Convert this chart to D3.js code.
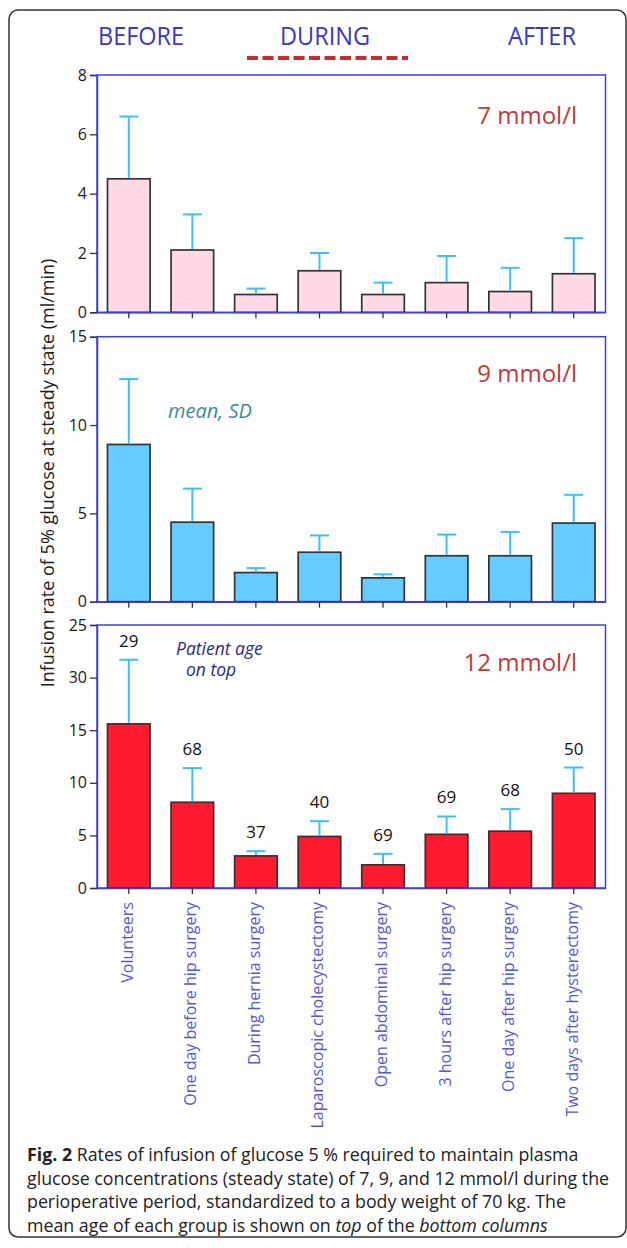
<!DOCTYPE html>
<html>
<head>
<meta charset="utf-8">
<script src="https://cdn.jsdelivr.net/npm/d3@7"></script>
<style>
  body { margin: 0; background: #fff; }
  svg { display: block; font-family: "Open Sans", "Noto Sans", sans-serif; }
</style>
</head>
<body>
<div id="chart"></div>
<script>
// groups along the x axis
let categories = ["Volunteers", "One day before hip surgery", "During hernia surgery",
  "Laparoscopic cholecystectomy", "Open abdominal surgery", "3 hours after hip surgery",
  "One day after hip surgery", "Two days after hysterectomy"];

// infusion rate (ml/min), mean and SD, per plasma glucose target
let mean7  = [4.5, 2.1, 0.6, 1.4, 0.6, 1.0, 0.7, 1.3];
let sd7    = [2.1, 1.2, 0.2, 0.6, 0.4, 0.9, 0.8, 1.2];
let mean9  = [8.9, 4.5, 1.65, 2.8, 1.35, 2.6, 2.6, 4.45];
let sd9    = [3.7, 1.9, 0.25, 0.95, 0.2, 1.2, 1.35, 1.6];
let mean12 = [15.6, 8.15, 3.05, 4.9, 2.2, 5.1, 5.4, 9.0];
let sd12   = [6.1, 3.25, 0.45, 1.45, 1.05, 1.7, 2.1, 2.45];

// mean patient age for each group
let ages = [29, 68, 37, 40, 69, 69, 68, 50];

// y ticks (the bottom panel's "30" is printed that way in the figure)
let ticks7 = [0, 2, 4, 6, 8];
let ticks9 = [0, 5, 10, 15];
let ticks12 = [0, 5, 10, 15, 20, 25];
let tickLabels12 = ["0", "5", "10", "15", "30", "25"];

let periods = ["BEFORE", "DURING", "AFTER"];
let captionLines = [
  [["Fig. 2", "bold"], [" Rates of infusion of glucose 5 % required to maintain plasma", ""]],
  [["glucose concentrations (steady state) of 7, 9, and 12 mmol/l during the", ""]],
  [["perioperative period, standardized to a body weight of 70 kg. The", ""]],
  [["mean age of each group is shown on ", ""], ["top", "italic"], [" of the ", ""], ["bottom columns", "italic"]]
];

let W = 627, H = 1248;
let left = 97, right = 605.5;
let svg = d3.select("#chart").append("svg").attr("width", W).attr("height", H);

// outer rounded frame
svg.append("rect").attr("x", 9).attr("y", 10).attr("width", 617).attr("height", 1227)
  .attr("rx", 9).attr("fill", "none").attr("stroke", "#333").attr("stroke-width", 1.5);

// period headings
let headX = [141, 325, 542], headW = [86, 90, 68];
svg.selectAll("text.head").data(periods).join("text")
  .attr("class", "head")
  .attr("x", (d, i) => headX[i]).attr("y", 45)
  .attr("text-anchor", "middle")
  .attr("font-size", 25)
  .attr("textLength", (d, i) => headW[i]).attr("lengthAdjust", "spacingAndGlyphs")
  .attr("fill", "#3a36c8")
  .text(d => d);
svg.append("line").attr("x1", 247).attr("x2", 408).attr("y1", 58).attr("y2", 58)
  .attr("stroke", "#cc2b2b").attr("stroke-width", 4).attr("stroke-dasharray", "11,4.5");

let x = d3.scaleBand().domain(categories).range([left, right]).paddingInner(0.33).paddingOuter(0.165);

let panels = [
  {top: 75, bottom: 312.3, max: 8, ticks: ticks7, labels: ticks7.map(String), mean: mean7, sd: sd7,
   fill: "#ffd9e6", conc: "7 mmol/l", concY: 124},
  {top: 336.7, bottom: 601.7, max: 15, ticks: ticks9, labels: ticks9.map(String), mean: mean9, sd: sd9,
   fill: "#66ccff", conc: "9 mmol/l", concY: 382},
  {top: 625, bottom: 888, max: 25, ticks: ticks12, labels: tickLabels12, mean: mean12, sd: sd12,
   fill: "#ff1a30", conc: "12 mmol/l", concY: 671}
];

panels.forEach(function(p, pi) {
  let y = d3.scaleLinear().domain([0, p.max]).range([p.bottom, p.top]);
  let g = svg.append("g");

  // plot frame
  g.append("rect").attr("x", left).attr("y", p.top)
    .attr("width", right - left).attr("height", p.bottom - p.top)
    .attr("fill", "none").attr("stroke", "#3c3cf0").attr("stroke-width", 1.5);

  // bars
  g.selectAll("rect.bar").data(categories).join("rect")
    .attr("class", "bar")
    .attr("x", d => x(d)).attr("width", x.bandwidth())
    .attr("y", (d, i) => y(p.mean[i]))
    .attr("height", (d, i) => y(0) - y(p.mean[i]))
    .attr("fill", p.fill).attr("stroke", "#333").attr("stroke-width", 1.7);

  // SD whiskers (upper only)
  let cx = d => x(d) + x.bandwidth() / 2;
  g.selectAll("line.err").data(categories).join("line")
    .attr("class", "err")
    .attr("x1", cx).attr("x2", cx)
    .attr("y1", (d, i) => y(p.mean[i]) - 1).attr("y2", (d, i) => y(p.mean[i] + p.sd[i]))
    .attr("stroke", "#3cc0f0").attr("stroke-width", 2);
  g.selectAll("line.cap").data(categories).join("line")
    .attr("class", "cap")
    .attr("x1", d => cx(d) - 9.5).attr("x2", d => cx(d) + 9.5)
    .attr("y1", (d, i) => y(p.mean[i] + p.sd[i])).attr("y2", (d, i) => y(p.mean[i] + p.sd[i]))
    .attr("stroke", "#3cc0f0").attr("stroke-width", 2);

  // left axis
  let yAxis = g.append("g").attr("transform", "translate(" + left + ",0)")
    .call(d3.axisLeft(y).tickValues(p.ticks).tickSize(7).tickPadding(3)
      .tickFormat((d, i) => p.labels[i]));
  yAxis.select(".domain").attr("stroke", "#3c3cf0").attr("stroke-width", 1.5);
  yAxis.selectAll(".tick line").attr("stroke", "#333").attr("stroke-width", 1.3);
  yAxis.selectAll(".tick text").attr("font-size", 16).attr("fill", "#1a1a1a")
    .attr("font-family", "'Open Sans', sans-serif");

  // bottom ticks
  let xAxis = g.append("g").attr("transform", "translate(0," + p.bottom + ")")
    .call(d3.axisBottom(x).tickSize(6).tickSizeOuter(0));
  xAxis.select(".domain").attr("stroke", "#3c3cf0").attr("stroke-width", 1.5);
  xAxis.selectAll(".tick line").attr("stroke", "#333").attr("stroke-width", 1.3);
  if (pi < 2) {
    xAxis.selectAll(".tick text").remove();
  } else {
    xAxis.selectAll(".tick text")
      .attr("transform", "translate(4,0) rotate(-90)")
      .attr("x", 0).attr("y", 0).attr("dy", null)
      .attr("dx", -14)
      .attr("text-anchor", "end")
      .attr("font-size", 16).attr("fill", "#5656d8")
      .attr("font-family", "'Open Sans', sans-serif");
  }

  // glucose target
  g.append("text").attr("x", 577).attr("y", p.concY).attr("text-anchor", "end")
    .attr("font-size", 24).attr("fill", "#c0393b").text(p.conc);

  // ages on top of the 12 mmol/l bars
  if (pi === 2) {
    g.selectAll("text.age").data(categories).join("text")
      .attr("class", "age")
      .attr("x", cx).attr("y", (d, i) => y(p.mean[i] + p.sd[i]) - 13)
      .attr("text-anchor", "middle").attr("font-size", 17).attr("fill", "#111")
      .text((d, i) => ages[i]);
  }
});

// annotations
svg.append("text").attr("x", 168).attr("y", 418).attr("font-size", 20)
  .attr("font-style", "italic").attr("fill", "#3a8a9c").text("mean, SD");
let note = svg.append("text").attr("y", 655).attr("font-size", 17.5)
  .attr("font-style", "italic").attr("fill", "#2b2b80");
note.append("tspan").attr("x", 176).text("Patient age");
note.append("tspan").attr("x", 186).attr("dy", 21).text("on top");

// y axis title
svg.append("text")
  .attr("transform", "translate(54,473) rotate(-90)")
  .attr("text-anchor", "middle").attr("font-size", 18).attr("fill", "#1a1a1a")
  .text("Infusion rate of 5% glucose at steady state (ml/min)");

// caption
let cap = svg.append("g");
captionLines.forEach(function(line, li) {
  let t = cap.append("text").attr("x", 27).attr("y", 1161 + li * 23.5)
    .attr("font-size", 17.8).attr("fill", "#222");
  line.forEach(function(seg) {
    let s = t.append("tspan").text(seg[0]);
    if (seg[1] === "bold") s.attr("font-weight", "bold");
    if (seg[1] === "italic") s.attr("font-style", "italic");
  });
});
</script>
</body>
</html>
